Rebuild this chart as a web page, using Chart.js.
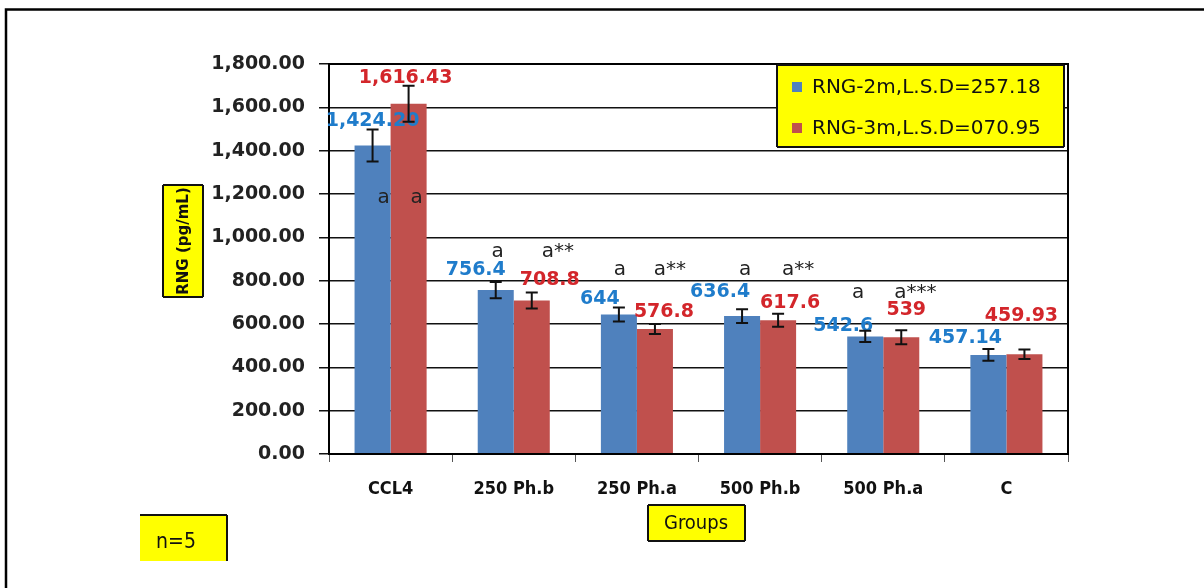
<!DOCTYPE html>
<html>
<head>
<meta charset="utf-8">
<script src="https://cdn.jsdelivr.net/npm/chart.js@4/dist/chart.umd.min.js"></script>
<style>
  body { margin: 0; background: #fff; }
  #wrap { width: 1204px; height: 588px; }
</style>
</head>
<body>
<div id="wrap"><canvas id="rngChart" width="1204" height="588"></canvas></div>
<script>
//categories and series
var groups = ['CCL4', '250 Ph.b', '250 Ph.a', '500 Ph.b', '500 Ph.a', 'C'];
var rng2m = [1424.20, 756.4, 644, 636.4, 542.6, 457.14];
var rng3m = [1616.43, 708.8, 576.8, 617.6, 539, 459.93];
var err2m = [74, 37, 32, 32, 26, 27];
var err3m = [83, 37, 23, 30, 32, 22];
var text2m = ['1,424.20', '756.4', '644', '636.4', '542.6', '457.14'];
var text3m = ['1,616.43', '708.8', '576.8', '617.6', '539', '459.93'];
var letters2m = ['a', 'a', 'a', 'a', 'a', ''];
var letters3m = ['a', 'a**', 'a**', 'a**', 'a***', ''];
var seriesNames = ['RNG-2m,L.S.D=257.18', 'RNG-3m,L.S.D=070.95'];
var yTicks = [0, 200, 400, 600, 800, 1000, 1200, 1400, 1600, 1800];

//colours
var blue = '#4f81bd', red = '#c0504d';
var blueText = '#1f7ccb', redText = '#d3262b';
var yellow = '#ffff00';

//where the value labels sit relative to the top of their bar (pixels)
var labelShift = [
  { dx: [0, -20, -19, -22, -22, -23], lift: [24, 20, 15, 24, 10, 17] },
  { dx: [-3, 18, 9, 12, 5, -3], lift: [26, 20, 17, 17, 27, 38] }
];
//where the letters sit, measured from the blue bar top
var letterLift = [-52, 38, 45, 46, 44, 0];
var letterDx = [[11, 2, 1, 3, -7, 0], [8, 26, 15, 20, 14, 0]];

//draw a yellow box with black border on the listed sides
function yellowBox(ctx, x, y, w, h, sides) {
  ctx.save();
  ctx.fillStyle = yellow;
  ctx.fillRect(x, y, w, h);
  ctx.strokeStyle = '#111';
  ctx.lineWidth = 2;
  ctx.beginPath();
  if (sides.indexOf('t') >= 0) { ctx.moveTo(x, y); ctx.lineTo(x + w, y); }
  if (sides.indexOf('r') >= 0) { ctx.moveTo(x + w, y); ctx.lineTo(x + w, y + h); }
  if (sides.indexOf('b') >= 0) { ctx.moveTo(x + w, y + h); ctx.lineTo(x, y + h); }
  if (sides.indexOf('l') >= 0) { ctx.moveTo(x, y + h); ctx.lineTo(x, y); }
  ctx.stroke();
  ctx.restore();
}

var decorations = {
  id: 'decorations',
  beforeDraw: function(chart) {
    var ctx = chart.ctx;
    ctx.save();
    ctx.fillStyle = '#fff';
    ctx.fillRect(0, 0, chart.width, chart.height);
    //outer frame, only top and left edges are visible
    ctx.strokeStyle = '#000';
    ctx.lineWidth = 2.5;
    ctx.strokeRect(6, 9.5, 1260, 700);
    ctx.restore();
  },
  afterDatasetsDraw: function(chart) {
    var ctx = chart.ctx;
    var area = chart.chartArea;
    var yScale = chart.scales.y;
    var sets = [[rng2m, err2m, text2m, blueText], [rng3m, err3m, text3m, redText]];

    //plot area border
    ctx.save();
    ctx.strokeStyle = '#000';
    ctx.lineWidth = 2;
    ctx.strokeRect(area.left, area.top, area.right - area.left, area.bottom - area.top);
    ctx.restore();

    //value labels
    ctx.save();
    ctx.font = 'bold 19px "DejaVu Sans"';
    ctx.textAlign = 'center';
    ctx.textBaseline = 'middle';
    sets.forEach(function(s, d) {
      var bars = chart.getDatasetMeta(d).data;
      ctx.fillStyle = s[3];
      bars.forEach(function(bar, i) {
        ctx.fillText(s[2][i], bar.x + labelShift[d].dx[i], bar.y - labelShift[d].lift[i]);
      });
    });
    ctx.restore();

    //error bars
    ctx.save();
    ctx.strokeStyle = '#111';
    ctx.lineWidth = 2;
    sets.forEach(function(s, d) {
      var bars = chart.getDatasetMeta(d).data;
      bars.forEach(function(bar, i) {
        var hi = yScale.getPixelForValue(s[0][i] + s[1][i]);
        var lo = yScale.getPixelForValue(s[0][i] - s[1][i]);
        ctx.beginPath();
        ctx.moveTo(bar.x, hi); ctx.lineTo(bar.x, lo);
        ctx.moveTo(bar.x - 6, hi); ctx.lineTo(bar.x + 6, hi);
        ctx.moveTo(bar.x - 6, lo); ctx.lineTo(bar.x + 6, lo);
        ctx.stroke();
      });
    });
    ctx.restore();

    //significance letters
    ctx.save();
    ctx.font = '20px "DejaVu Sans"';
    ctx.fillStyle = '#222';
    ctx.textAlign = 'center';
    ctx.textBaseline = 'middle';
    var blueBars = chart.getDatasetMeta(0).data;
    var redBars = chart.getDatasetMeta(1).data;
    groups.forEach(function(g, i) {
      var y = blueBars[i].y - letterLift[i];
      if (letters2m[i]) ctx.fillText(letters2m[i], blueBars[i].x + letterDx[0][i], y);
      if (letters3m[i]) ctx.fillText(letters3m[i], redBars[i].x + letterDx[1][i], y);
    });
    ctx.restore();
  },
  afterDraw: function(chart) {
    var ctx = chart.ctx;

    //legend box
    yellowBox(ctx, 777, 65, 287, 82, 'trbl');
    ctx.save();
    ctx.font = '20px "DejaVu Sans"';
    ctx.textBaseline = 'middle';
    [blue, red].forEach(function(c, i) {
      var y = 87 + i * 41;
      ctx.fillStyle = c;
      ctx.fillRect(792, y - 5, 10, 10);
      ctx.fillStyle = '#111';
      ctx.fillText(seriesNames[i], 812, y + 1);
    });
    ctx.restore();

    //y axis title
    yellowBox(ctx, 163, 185, 40, 112, 'trbl');
    ctx.save();
    ctx.translate(184, 241);
    ctx.rotate(-Math.PI / 2);
    ctx.font = 'bold 15px "DejaVu Sans"';
    ctx.fillStyle = '#111';
    ctx.textAlign = 'center';
    ctx.textBaseline = 'middle';
    ctx.fillText('RNG (pg/mL)', 0, 0);
    ctx.restore();

    //x axis title
    yellowBox(ctx, 648, 505, 97, 36, 'trbl');
    ctx.save();
    ctx.font = '20px "DejaVu Sans Condensed"';
    ctx.fillStyle = '#111';
    ctx.textAlign = 'center';
    ctx.textBaseline = 'middle';
    ctx.fillText('Groups', 696, 524);
    ctx.restore();

    //sample size box
    yellowBox(ctx, 140, 515, 87, 46, 'tr');
    ctx.save();
    ctx.font = '21px "DejaVu Sans Condensed"';
    ctx.fillStyle = '#111';
    ctx.textAlign = 'center';
    ctx.textBaseline = 'middle';
    ctx.fillText('n=5', 176, 543);
    ctx.restore();
  }
};

var rngChart = new Chart(document.getElementById('rngChart'), {
  type: 'bar',
  data: {
    labels: groups,
    datasets: [
      { label: seriesNames[0], data: rng2m, backgroundColor: blue },
      { label: seriesNames[1], data: rng3m, backgroundColor: red }
    ]
  },
  options: {
    responsive: false,
    animation: false,
    layout: { padding: { top: 64, right: 136, bottom: 0, left: 0 } },
    datasets: { bar: { categoryPercentage: 0.585, barPercentage: 1 } },
    plugins: {
      legend: { display: false },
      tooltip: { enabled: false }
    },
    scales: {
      x: {
        afterFit: function(s) { s.height = 134; },
        grid: { drawOnChartArea: false, drawTicks: true, tickLength: 8, color: '#555' },
        border: { color: '#000', width: 2 },
        ticks: { color: '#111', padding: 17, font: { family: '"DejaVu Sans Condensed"', weight: 'bold', size: 18 } }
      },
      y: {
        min: 0,
        max: 1800,
        afterFit: function(s) { s.width = 329; },
        afterBuildTicks: function(s) { s.ticks = yTicks.map(function(v) { return { value: v }; }); },
        grid: { color: '#111', lineWidth: 1.5, tickLength: 10 },
        border: { color: '#000', width: 2 },
        ticks: {
          color: '#222',
          padding: 14,
          font: { family: '"DejaVu Sans"', weight: 'bold', size: 19 },
          callback: function(v) {
            return Number(v).toLocaleString('en-US', { minimumFractionDigits: 2, maximumFractionDigits: 2 });
          }
        }
      }
    }
  },
  plugins: [decorations]
});
</script>
</body>
</html>
